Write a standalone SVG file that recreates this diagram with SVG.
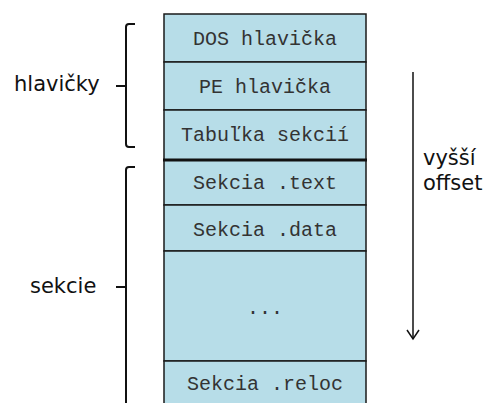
<svg xmlns="http://www.w3.org/2000/svg" width="499" height="403" viewBox="0 0 499 403">
<style>
.cell{fill:#b7dde8;stroke:#1a1a1a;stroke-width:1.5}
.mono{font-family:"Liberation Mono","Courier New",monospace;font-size:20px;fill:#333;text-anchor:middle}
.lbl{font-family:"DejaVu Sans",Verdana,sans-serif;font-size:21px;fill:#111}
.br{fill:none;stroke:#111;stroke-width:2}
</style>
<defs>
<marker id="ah" markerWidth="12" markerHeight="14" refX="10" refY="7" orient="auto" markerUnits="userSpaceOnUse" viewBox="0 0 12 14">
<path d="M1,1 L10,7 L1,13" fill="none" stroke="#111" stroke-width="1.5"/>
</marker>
</defs>
<g id="dos"><rect class="cell" x="164" y="14" width="202" height="48"/><text class="mono" x="265" y="45">DOS hlavička</text></g>
<g id="pe"><rect class="cell" x="164" y="62" width="202" height="48"/><text class="mono" x="265" y="93">PE hlavička</text></g>
<g id="tab"><rect class="cell" x="164" y="110" width="202" height="50"/><text class="mono" x="265" y="141">Tabuľka sekcií</text></g>
<g id="text"><rect class="cell" x="164" y="160" width="202" height="45"/><text class="mono" x="265" y="189">Sekcia .text</text></g>
<g id="data"><rect class="cell" x="164" y="205" width="202" height="46"/><text class="mono" x="265" y="236">Sekcia .data</text></g>
<g id="dots"><rect class="cell" x="164" y="251" width="202" height="110"/><text class="mono" x="265" y="314">...</text></g>
<g id="reloc"><rect class="cell" x="164" y="361" width="202" height="50"/><text class="mono" x="265" y="390">Sekcia .reloc</text></g>
<g id="connectors">
<line x1="163" y1="160" x2="367" y2="160" stroke="#111" stroke-width="3"/>
<path class="br" d="M135,24 L129,24 Q126,24 126,27 L126,86 L116,86 M126,86 L126,144 Q126,147 129,147 L135,147"/>
<path class="br" d="M135,167 L129,167 Q126,167 126,170 L126,287 L116,287 M126,287 L126,410"/>
<line x1="413" y1="72" x2="413" y2="339" stroke="#111" stroke-width="1.5" marker-end="url(#ah)"/>
</g>
<g id="labels">
<text class="lbl" x="14" y="91">hlavičky</text>
<text class="lbl" x="30" y="293">sekcie</text>
<text class="lbl" x="423" y="165">vyšší</text>
<text class="lbl" x="423" y="190">offset</text>
</g>
</svg>
